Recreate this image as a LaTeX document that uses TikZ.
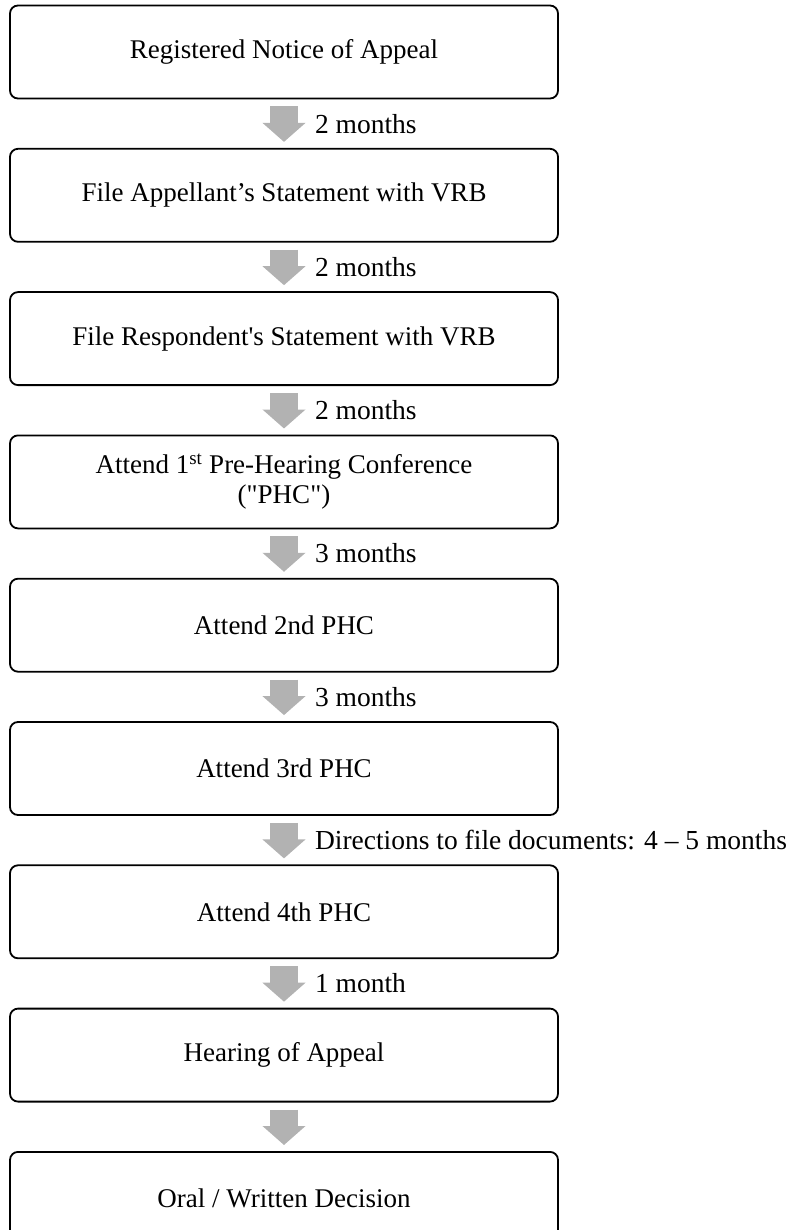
\documentclass[tikz,border=0pt]{standalone}
\usepackage{fontspec}
\setmainfont{Liberation Serif}[Ligatures=TeXOff]
\usetikzlibrary{positioning,arrows.meta}
\tikzset{
	stage/.style={draw=black, line width=1.8pt, rounded corners=8pt, minimum width=548pt, minimum height=93pt, align=center, font=\fontsize{27}{30}\selectfont, inner sep=2pt},
	flow/.style={draw=black!30, line width=28pt, -{Triangle[width=42pt,length=19pt]}, shorten <=7pt, shorten >=6pt},
	lapse/.style={anchor=west, xshift=29pt, font=\fontsize{27.5}{30}\selectfont, inner sep=2pt, outer sep=0pt}
}
\begin{document}
\begin{tikzpicture}[x=1pt,y=1pt]
	\useasboundingbox (0,0) rectangle (792,-1230);
	\node[stage] (notice) at (284,-52) {Registered Notice of Appeal};
	\node[stage, below=48.5pt of notice] (appst) {File Appellant’s Statement with VRB};
	\node[stage, below=48.5pt of appst] (respst) {File Respondent's Statement with VRB};
	\node[stage, below=48.5pt of respst] (phcone) {Attend 1\textsuperscript{st} Pre-Hearing Conference\\("PHC")};
	\node[stage, below=48.5pt of phcone] (phctwo) {Attend 2nd PHC};
	\node[stage, below=48.5pt of phctwo] (phcthree) {Attend 3rd PHC};
	\node[stage, below=48.5pt of phcthree] (phcfour) {Attend 4th PHC};
	\node[stage, below=48.5pt of phcfour] (hearing) {Hearing of Appeal};
	\node[stage, below=48.5pt of hearing] (decision) {Oral / Written Decision};
	% arrows between the stages
	\draw[flow] (notice) -- (appst) node[lapse, midway] (lapseA) {2 months};
	\draw[flow] (appst) -- (respst) node[lapse, midway] (lapseB) {2 months};
	\draw[flow] (respst) -- (phcone) node[lapse, midway] (lapseC) {2 months};
	\draw[flow] (phcone) -- (phctwo) node[lapse, midway] (lapseD) {3 months};
	\draw[flow] (phctwo) -- (phcthree) node[lapse, midway] (lapseE) {3 months};
	\draw[flow] (phcthree) -- (phcfour) node[lapse, midway] (lapseF) {Directions to file documents: 4 \textendash\ 5 months};
	\draw[flow] (phcfour) -- (hearing) node[lapse, midway] (lapseG) {1 month};
	\draw[flow] (hearing) -- (decision);
\end{tikzpicture}
\end{document}
